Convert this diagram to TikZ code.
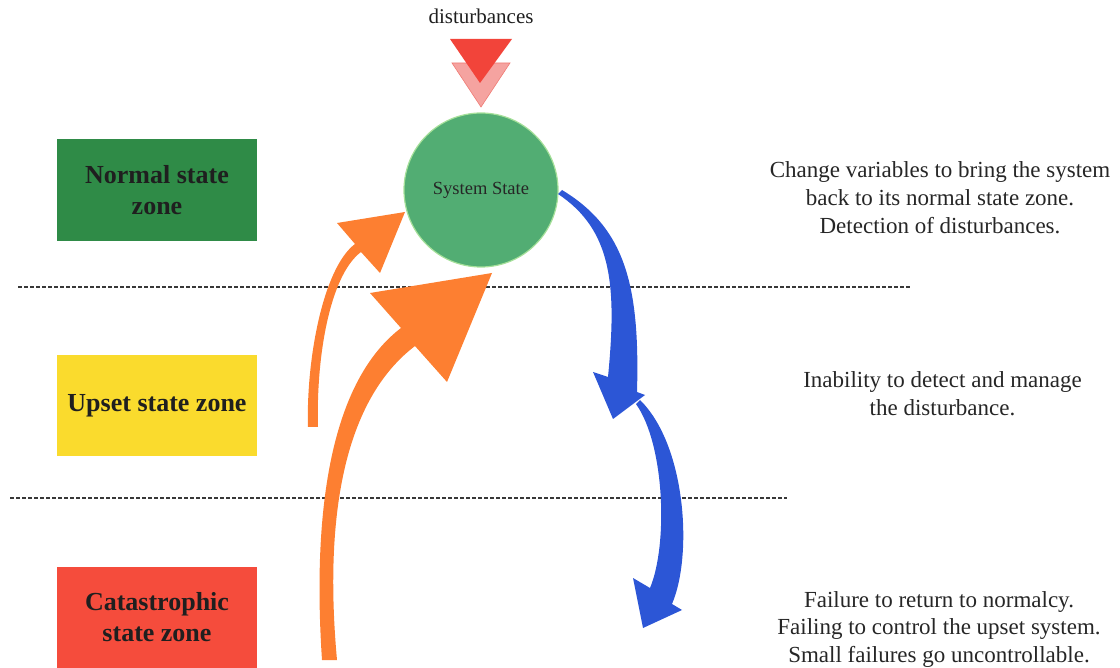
\documentclass[tikz,border=0pt]{standalone}
\usepackage{fontspec}
\setmainfont{Liberation Serif}
\definecolor{normalgreen}{HTML}{2F8B47}
\definecolor{upsetyellow}{HTML}{FADB2D}
\definecolor{catred}{HTML}{F54C3C}
\definecolor{statefill}{HTML}{52AD73}
\definecolor{stateedge}{HTML}{A6E09A}
\definecolor{recover}{HTML}{FD7F31}
\definecolor{decline}{HTML}{2C56D6}
\definecolor{distred}{HTML}{F2443A}
\definecolor{distpink}{HTML}{F5A3A0}
\definecolor{distedge}{HTML}{F07B74}
\begin{document}
\begin{tikzpicture}[x=1pt,y=-1pt,
  zonebox/.style={minimum width=200pt, minimum height=102pt, inner sep=0pt,
    align=center, text=black!88,
    font=\fontsize{26}{31}\selectfont\bfseries},
  note/.style={align=center, inner sep=0pt, text=black!85,
    font=\fontsize{23}{27.7}\selectfont},
  zoneline/.style={draw=black!78, line width=1.4pt, dash pattern=on 4pt off 2pt},
  recoverarrow/.style={fill=recover},
  declinearrow/.style={fill=decline}]

\useasboundingbox (0,0) rectangle (1120,668);

% zone labels
\node[zonebox, fill=normalgreen] (normal) at (157,190) {Normal state\\zone};
\node[zonebox, fill=upsetyellow, minimum height=101pt] (upset) at (157,405.5) {Upset state zone};
\node[zonebox, fill=catred, minimum height=101pt] (cata) at (157,617.5) {Catastrophic\\state zone};

% zone boundaries
\coordinate (b1l) at (18,287);
\coordinate (b1r) at (910,287);
\coordinate (b2l) at (10,498);
\coordinate (b2r) at (787,498);
\draw[zoneline] (b1l) -- (b1r);
\draw[zoneline] (b2l) -- (b2r);

% explanations
\node[note] (t1) at (940,197.5) {Change variables to bring the system\\back to its normal state zone.\\Detection of disturbances.};
\node[note] (t2) at (942.5,394) {Inability to detect and manage\\the disturbance.};
\node[note] (t3) at (939,629.5) {Failure to return to normalcy.\\Failing to control the upset system.\\Small failures go uncontrollable.};

% disturbances entering from above
\node[font=\fontsize{21}{25}\selectfont, text=black!88, inner sep=0pt, anchor=base] (dist) at (481,24) {disturbances};
\fill[distpink, draw=distedge, line width=0.6pt] (452,63) -- (510,63) -- (481,107) -- cycle;
\fill[distred] (450,39) -- (512,39) -- (480,83) -- cycle;

% system state
\node[circle, minimum size=154pt, inner sep=0pt, fill=statefill, draw=stateedge,
  line width=1.2pt, text=black!85, font=\fontsize{18.5}{22}\selectfont] (sys) at (481,190) {System State};

% recovery arrows (orange)
\coordinate (r1tip) at (405,212);
\coordinate (r2tip) at (492,273);
\fill[recoverarrow] (308,427) .. controls (306,360) and (323,268) .. (355,244)
  -- (337,223) -- (r1tip) -- (380,273) -- (361,252)
  .. controls (329,276) and (316,360) .. (318,427) -- cycle;
\fill[recoverarrow] (322,660) .. controls (314,540) and (321.5,388.6) .. (401,328)
  -- (370,293) -- (r2tip) -- (447,382) -- (415,346)
  .. controls (335.5,406.6) and (326,540) .. (337,660) -- cycle;

% decline arrows (blue)
\coordinate (d1tip) at (613,419);
\coordinate (d2tip) at (643,628);
\fill[declinearrow] (558,194) .. controls (612,230) and (617,285) .. (608,377)
  -- (593,372) -- (d1tip) -- (645,395) -- (637,392)
  .. controls (640,285) and (625,228) .. (562,190) -- cycle;
\fill[declinearrow] (636,404) .. controls (665,445) and (668,545) .. (650,588)
  -- (633,578) -- (d2tip) -- (682,610) -- (672,604)
  .. controls (693,555) and (686,445) .. (640,400) -- cycle;

\end{tikzpicture}
\end{document}
